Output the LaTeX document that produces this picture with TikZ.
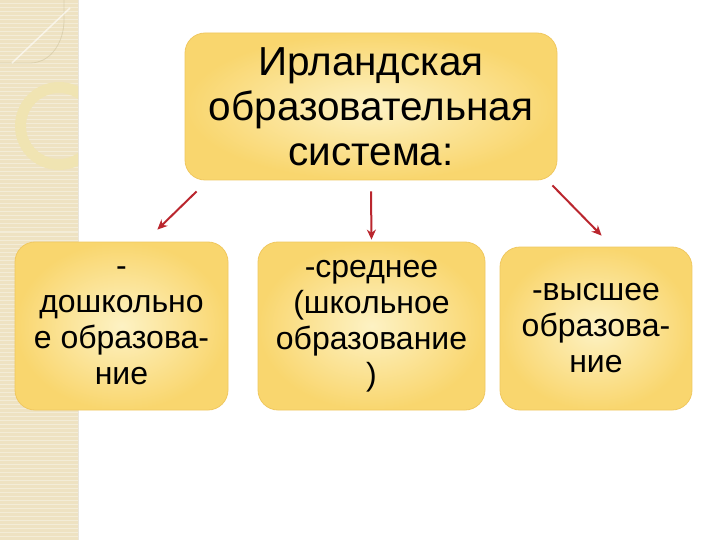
\documentclass[tikz,border=0pt]{standalone}
\usepackage{fontspec}
\setmainfont{Liberation Sans}
\usetikzlibrary{arrows.meta,calc}

\begin{document}
\begin{tikzpicture}[x=1pt,y=-1pt,
  box/.style={draw=boxline,line width=0.8pt,rounded corners=20pt,
              inner color=boxin,outer color=boxout,align=center,inner sep=0pt},
  big/.style={font=\fontsize{40.5}{45}\selectfont},
  small/.style={font=\fontsize{32}{36}\selectfont},
  arr/.style={draw=arrow,line width=2pt,-{Stealth[length=10pt,width=9pt]}}]
\definecolor{boxin}{RGB}{253,242,196}
\definecolor{boxout}{RGB}{249,214,110}
\definecolor{boxline}{RGB}{240,200,96}
\definecolor{arrow}{RGB}{186,38,46}
\definecolor{strip}{RGB}{238,226,194}
\definecolor{ring}{RGB}{240,228,178}
\useasboundingbox (0,0) rectangle (720,540);
\fill[white] (0,0) rectangle (720,540);
% decorated strip on the left
\begin{scope}
\clip (0,0) rectangle (78,540);
\fill[strip] (0,0) rectangle (78,540);
\foreach \y in {0,4,...,540}
\draw[white,opacity=.35,line width=1pt] (0,\y) -- (78,\y);
\draw[ring,line width=11pt] (59,126) circle (38.5);
\draw[ring!80!black,opacity=.4,line width=.8pt] (0,63) -- (30,63) to[out=0,in=270] (64,20) -- (64,0);
\draw[white,opacity=.6,line width=1.5pt] (12,63) -- (70,8);
\end{scope}
\draw[strip!85!black,opacity=.4] (78,0) -- (78,540);
% boxes
\node[box,big,minimum width=372,minimum height=147] (top) at (371,106.5)
  {Ирландская\\образовательная\\система:};
\node[box,small,minimum width=213,minimum height=168] (pre) at (121.5,326)
  {-\\дошкольно\\е образова-\\ние};
\node[box,small,minimum width=227,minimum height=168] (mid) at (371.5,326)
  {-среднее\\(школьное\\образование\\)};
\node[box,small,minimum width=192,minimum height=163] (high) at (596,328.5)
  {-высшее\\образова-\\ние};
% arrows
\draw[arr] ([shift={(12,11)}]top.south west) -- ([shift={(-71,-12)}]pre.north east);
\draw[arr] ([shift={(0,11)}]top.south) -- ([shift={(0,-2)}]mid.north);
\draw[arr] ([shift={(-5,5)}]top.south east) -- ([shift={(102,-11)}]high.north west);
\end{tikzpicture}
\end{document}
